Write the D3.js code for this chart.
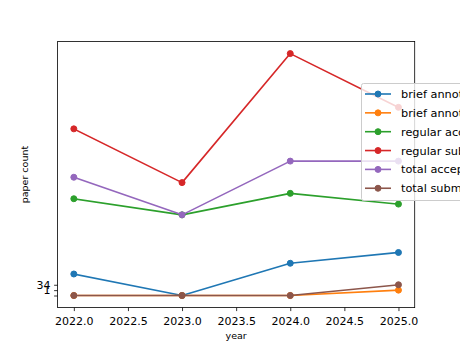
<!DOCTYPE html>
<html>
<head>
<meta charset="utf-8">
<script src="https://cdn.jsdelivr.net/npm/d3@7/dist/d3.min.js"></script>
<style>
  html, body { margin: 0; padding: 0; background: #fff; }
  svg { display: block; font-family: "DejaVu Sans", sans-serif; }
</style>
</head>
<body>
<svg id="chart" width="460" height="345"></svg>
<script>
// Paper counts per year
const years = [2022, 2023, 2024, 2025];
const briefAccepted = [4, 0, 6, 8];
const briefSubmitted = ["", "", "", "1"];   // stored as text
const regularAccepted = [18, 15, 19, 17];
const regularSubmitted = [31, 21, 45, 35];
const totalAccepted = [22, 15, 25, 25];
const totalSubmitted = ["", "", "", "34"];  // stored as text

const seriesNames = [
  "brief annotations accepted",
  "brief annotations submitted",
  "regular accepted",
  "regular submitted",
  "total accepted",
  "total submitted"
];
const seriesColors = ["#1f77b4", "#ff7f0e", "#2ca02c", "#d62728", "#9467bd", "#8c564b"];
const xTickValues = [2022.0, 2022.5, 2023.0, 2023.5, 2024.0, 2024.5, 2025.0];

const seriesValues = [briefAccepted, briefSubmitted, regularAccepted, regularSubmitted, totalAccepted, totalSubmitted];

// Text values become categories on the y axis, placed at 0, 1, 2, ... in order of first appearance
const yCategories = [];
seriesValues.forEach(vals => vals.forEach(v => {
  if (typeof v === "string" && !yCategories.includes(v)) yCategories.push(v);
}));
const toY = v => (typeof v === "string" ? yCategories.indexOf(v) : v);

const series = seriesNames.map((name, i) => ({
  name, color: seriesColors[i],
  points: years.map((yr, j) => ({ x: yr, y: toY(seriesValues[i][j]) }))
}));

const plot = { left: 57.6, right: 414.7, top: 41.5, bottom: 307.6 };
const tickFont = 11, legendFont = 11.3, titleFont = 9.5;

const allY = series.flatMap(s => s.points.map(p => p.y));
const yMin = d3.min(allY), yMax = d3.max(allY);
const yPad = (yMax - yMin) * 0.05;
const xMin = d3.min(years), xMax = d3.max(years);
const xPad = (xMax - xMin) * 0.05;

const x = d3.scaleLinear().domain([xMin - xPad, xMax + xPad]).range([plot.left, plot.right]);
const y = d3.scaleLinear().domain([yMin - yPad, yMax + yPad]).range([plot.bottom, plot.top]);

const svg = d3.select("#chart");

// series lines and markers
const line = d3.line().x(d => x(d.x)).y(d => y(d.y));
series.forEach(s => {
  const g = svg.append("g");
  g.append("path").datum(s.points)
    .attr("d", line).attr("fill", "none")
    .attr("stroke", s.color).attr("stroke-width", 1.6)
    .attr("stroke-linejoin", "round").attr("stroke-linecap", "square");
  g.selectAll("circle").data(s.points).join("circle")
    .attr("cx", d => x(d.x)).attr("cy", d => y(d.y)).attr("r", 3)
    .attr("fill", s.color).attr("stroke", s.color).attr("stroke-width", 1);
});

// axes frame
svg.append("rect")
  .attr("x", plot.left).attr("y", plot.top)
  .attr("width", plot.right - plot.left).attr("height", plot.bottom - plot.top)
  .attr("fill", "none").attr("stroke", "#000").attr("stroke-width", 0.8);

// x axis
const xAxis = d3.axisBottom(x).tickValues(xTickValues)
  .tickFormat(d3.format(".1f")).tickSizeInner(3.5).tickSizeOuter(0).tickPadding(3.5);
const gx = svg.append("g").attr("transform", `translate(0,${plot.bottom})`).call(xAxis);
gx.select(".domain").remove();
gx.selectAll(".tick line").attr("stroke", "#000").attr("stroke-width", 0.8);
gx.selectAll(".tick text").attr("font-size", tickFont).attr("fill", "#000")
  .attr("font-family", "DejaVu Sans").attr("dy", null).attr("y", 17.6);

// y axis: ticks at the category positions, labelled with the category text
const yAxis = d3.axisLeft(y).tickValues(yCategories.map((c, i) => i))
  .tickFormat(i => yCategories[i]).tickSizeInner(3.5).tickSizeOuter(0).tickPadding(3.5);
const gy = svg.append("g").attr("transform", `translate(${plot.left},0)`).call(yAxis);
gy.select(".domain").remove();
gy.selectAll(".tick line").attr("stroke", "#000").attr("stroke-width", 0.8);
gy.selectAll(".tick text").attr("font-size", tickFont).attr("fill", "#000")
  .attr("font-family", "DejaVu Sans").attr("dy", "0.3em");

// axis titles
svg.append("text").attr("x", (plot.left + plot.right) / 2).attr("y", 339)
  .attr("text-anchor", "middle").attr("font-size", titleFont).attr("fill", "#000").text("year");
svg.append("text")
  .attr("transform", `translate(27.5,${(plot.top + plot.bottom) / 2}) rotate(-90)`)
  .attr("text-anchor", "middle").attr("font-size", titleFont).attr("fill", "#000").text("paper count");

// legend
const leg = { x: 361.5, y: 83.5, w: 170, h: 117, row0: 94, rowStep: 18.85 };
const lg = svg.append("g");
lg.append("rect").attr("x", leg.x).attr("y", leg.y).attr("width", leg.w).attr("height", leg.h)
  .attr("rx", 2).attr("fill", "#fff").attr("fill-opacity", 0.8)
  .attr("stroke", "#cccccc").attr("stroke-width", 1);
series.forEach((s, i) => {
  const cy = leg.row0 + i * leg.rowStep;
  lg.append("line").attr("x1", leg.x + 3.5).attr("x2", leg.x + 29.5)
    .attr("y1", cy).attr("y2", cy).attr("stroke", s.color).attr("stroke-width", 1.6);
  lg.append("circle").attr("cx", leg.x + 16.5).attr("cy", cy).attr("r", 3)
    .attr("fill", s.color).attr("stroke", s.color);
  lg.append("text").attr("x", leg.x + 39.5).attr("y", cy).attr("dy", "0.36em")
    .attr("font-size", legendFont).attr("fill", "#000").text(s.name);
});
</script>
</body>
</html>
